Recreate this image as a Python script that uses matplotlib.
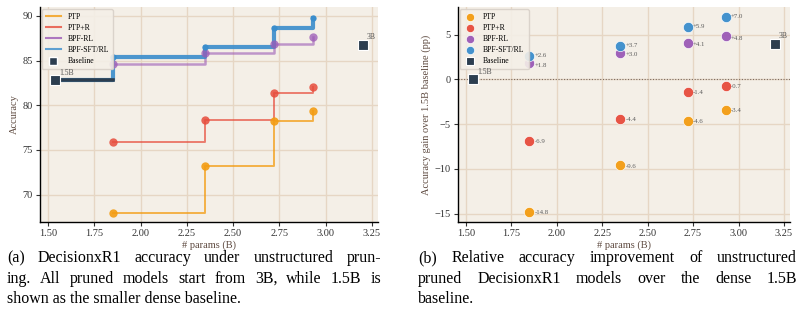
import matplotlib
matplotlib.use("Agg")
import matplotlib.pyplot as plt
from matplotlib.lines import Line2D

# ---------------- data ----------------
params = [1.85, 2.35, 2.72, 2.93]
base_params = [1.54, 3.2]
base_acc = [82.8, 86.8]
base_labels = ["1.5B", "3B"]
series_names = ["PTP", "PTP+R", "BPF-RL", "BPF-SFT/RL"]
acc_ptp = [68.0, 73.2, 78.2, 79.4]
acc_ptpr = [75.9, 78.4, 81.4, 82.1]
acc_bpfrl = [84.6, 85.8, 86.9, 87.6]
acc_bpfsft = [85.4, 86.5, 88.7, 89.8]
gain_ptp = [-14.8, -9.6, -4.6, -3.4]
gain_ptpr = [-6.9, -4.4, -1.4, -0.7]
gain_bpfrl = [1.8, 3.0, 4.1, 4.8]
gain_bpfsft = [2.6, 3.7, 5.9, 7.0]
base_gain = [0.0, 4.0]

colors = ["#f39c12", "#e74c3c", "#9b59b6", "#3a8dcc"]
base_color = "#2c3e50"
bg = "#f4efe7"
grid_c = "#e6d6c4"
label_c = "#5e4a40"

plt.rcParams["font.family"] = ["Liberation Serif", "DejaVu Serif"]

fig = plt.figure(figsize=(8.04, 3.26), dpi=100)
W, H = 804, 326
def pos(x0, y0, x1, y1):
    return [x0 / W, 1 - y1 / H, (x1 - x0) / W, (y1 - y0) / H]

axL = fig.add_axes(pos(40, 7, 378, 222))
axR = fig.add_axes(pos(458, 7, 790, 222))

for ax in (axL, axR):
    ax.set_facecolor(bg)
    ax.grid(True, color=grid_c, lw=1.0)
    ax.set_axisbelow(True)
    for s in ("top", "right"):
        ax.spines[s].set_visible(False)
    for s in ("left", "bottom"):
        ax.spines[s].set_color("black")
        ax.spines[s].set_linewidth(1.0)
    ax.tick_params(labelsize=7.5, length=3, width=0.8, colors="#333333", pad=2)
    ax.set_xticks([1.5, 1.75, 2.0, 2.25, 2.5, 2.75, 3.0, 3.25])
    ax.set_xticklabels(["1.50", "1.75", "2.00", "2.25", "2.50", "2.75", "3.00", "3.25"])
    ax.set_xlabel("# params (B)", fontsize=7.5, color=label_c, labelpad=2)
    ax.set_xlim(1.457, 3.283)

# ---------------- left panel ----------------
acc_all = [acc_ptp, acc_ptpr, acc_bpfrl, acc_bpfsft]
styles = [
    dict(lw=1.4, alpha=0.75, ms=6),
    dict(lw=1.4, alpha=0.7, ms=6),
    dict(lw=1.8, alpha=0.6, ms=6),
    dict(lw=3.0, alpha=0.9, ms=4.5),
]
for name, vals, c, st in zip(series_names, acc_all, colors, styles):
    if name == "BPF-SFT/RL":
        xs = [base_params[0]] + params
        ys = [base_acc[0]] + vals
    else:
        xs, ys = params, vals
    axL.plot(xs, ys, drawstyle="steps-post", color=c, lw=st["lw"], alpha=st["alpha"], zorder=3)
    axL.plot(params, vals, "o", color=c, ms=st["ms"], alpha=min(1, st["alpha"] + 0.15), zorder=4,
             markeredgewidth=0)
axL.plot([base_params[0], params[0]], [base_acc[0], base_acc[0]], color=base_color, lw=2.6, zorder=5)
axL.scatter(base_params, base_acc, marker="s", s=45, color=base_color, edgecolor="white",
            linewidth=0.8, zorder=6)
for bx, by, bl in zip(base_params, base_acc, base_labels):
    axL.annotate(bl, (bx, by), xytext=(3, 4), textcoords="offset points", fontsize=5.5,
                 color="#555555", zorder=7)
axL.set_ylim(66.94, 91.0)
axL.set_yticks([70, 75, 80, 85, 90])
axL.set_ylabel("Accuracy", fontsize=7.5, color=label_c, labelpad=3)

handlesL = [Line2D([], [], color=c, lw=1.5, alpha=0.8) for c in colors] + [
    Line2D([], [], marker="s", ls="", color=base_color, ms=5.5, markeredgecolor="white")]
legL = axL.legend(handlesL, series_names + ["Baseline"], loc="upper left", fontsize=5.6,
                  frameon=True, handlelength=1.9, borderpad=0.5, labelspacing=0.4,
                  handletextpad=0.9, borderaxespad=0.25)
legL.get_frame().set_facecolor(bg)
legL.get_frame().set_edgecolor("#d8d0c8")
legL.get_frame().set_alpha(0.9)

# ---------------- right panel ----------------
gain_all = [gain_ptp, gain_ptpr, gain_bpfrl, gain_bpfsft]
label_dy = [-0.5, -0.5, -1.3, 0.3]   # small vertical nudges (points) per series
axR.axhline(0, color="#7a6a60", lw=0.8, ls=(0, (1, 1.5)), zorder=2)
for name, vals, c, dy in zip(series_names, gain_all, colors, label_dy):
    axR.scatter(params, vals, s=55, color=c, alpha=0.95, edgecolor="white", linewidth=0.5,
                zorder=4, label=name)
    for x, v in zip(params, vals):
        axR.annotate(f"{v:+.1f}", (x, v), xytext=(3.8, dy), textcoords="offset points",
                     fontsize=4.9, color="#5a5a5a", zorder=5, va="center")
axR.scatter(base_params, base_gain, marker="s", s=45, color=base_color, edgecolor="white",
            linewidth=0.8, zorder=6, label="Baseline")
for bx, by, bl in zip(base_params, base_gain, base_labels):
    axR.annotate(bl, (bx, by), xytext=(3, 4), textcoords="offset points", fontsize=5.5,
                 color="#555555", zorder=7)
axR.set_ylim(-15.93, 8.09)
axR.set_yticks([-15, -10, -5, 0, 5])
axR.set_yticklabels(["\u221215", "\u221210", "\u22125", "0", "5"])
axR.set_ylabel("Accuracy gain over 1.5B baseline (pp)", fontsize=7.5, color=label_c, labelpad=3)
legR = axR.legend(loc="upper left", fontsize=5.6, frameon=True, borderpad=0.5,
                  labelspacing=0.4, handletextpad=0.9, borderaxespad=0.25, markerscale=0.8,
                  handlelength=1.6)
legR.get_frame().set_facecolor(bg)
legR.get_frame().set_edgecolor("#d8d0c8")
legR.get_frame().set_alpha(0.9)

# ---------------- captions ----------------
cap_font = dict(fontsize=11.5, family="Liberation Serif", color="black")
renderer = fig.canvas.get_renderer()

def justified(line, x0, x1, ypix, justify=True):
    y = 1 - ypix / H
    words = line.split(" ")
    if not justify:
        fig.text(x0 / W, y, line, va="center", ha="left", **cap_font)
        return
    texts = [fig.text(0, y, w, va="center", ha="left", **cap_font) for w in words]
    widths = [t.get_window_extent(renderer).width for t in texts]
    gap = ((x1 - x0) - sum(widths)) / (len(words) - 1)
    x = x0
    for t, w in zip(texts, widths):
        t.set_x(x / W)
        x += w + gap

cap_a = ["(a) DecisionxR1 accuracy under unstructured prun-",
         "ing. All pruned models start from 3B, while 1.5B is",
         "shown as the smaller dense baseline."]
cap_b = ["(b) Relative accuracy improvement of unstructured",
         "pruned DecisionxR1 models over the dense 1.5B",
         "baseline."]
ys = [258, 279, 299]
for i, (la, lb) in enumerate(zip(cap_a, cap_b)):
    justified(la, 7, 381, ys[i], justify=(i < 2))
    justified(lb, 418, 797, ys[i], justify=(i < 2))

fig.savefig("out.png", dpi=100, facecolor="white")
